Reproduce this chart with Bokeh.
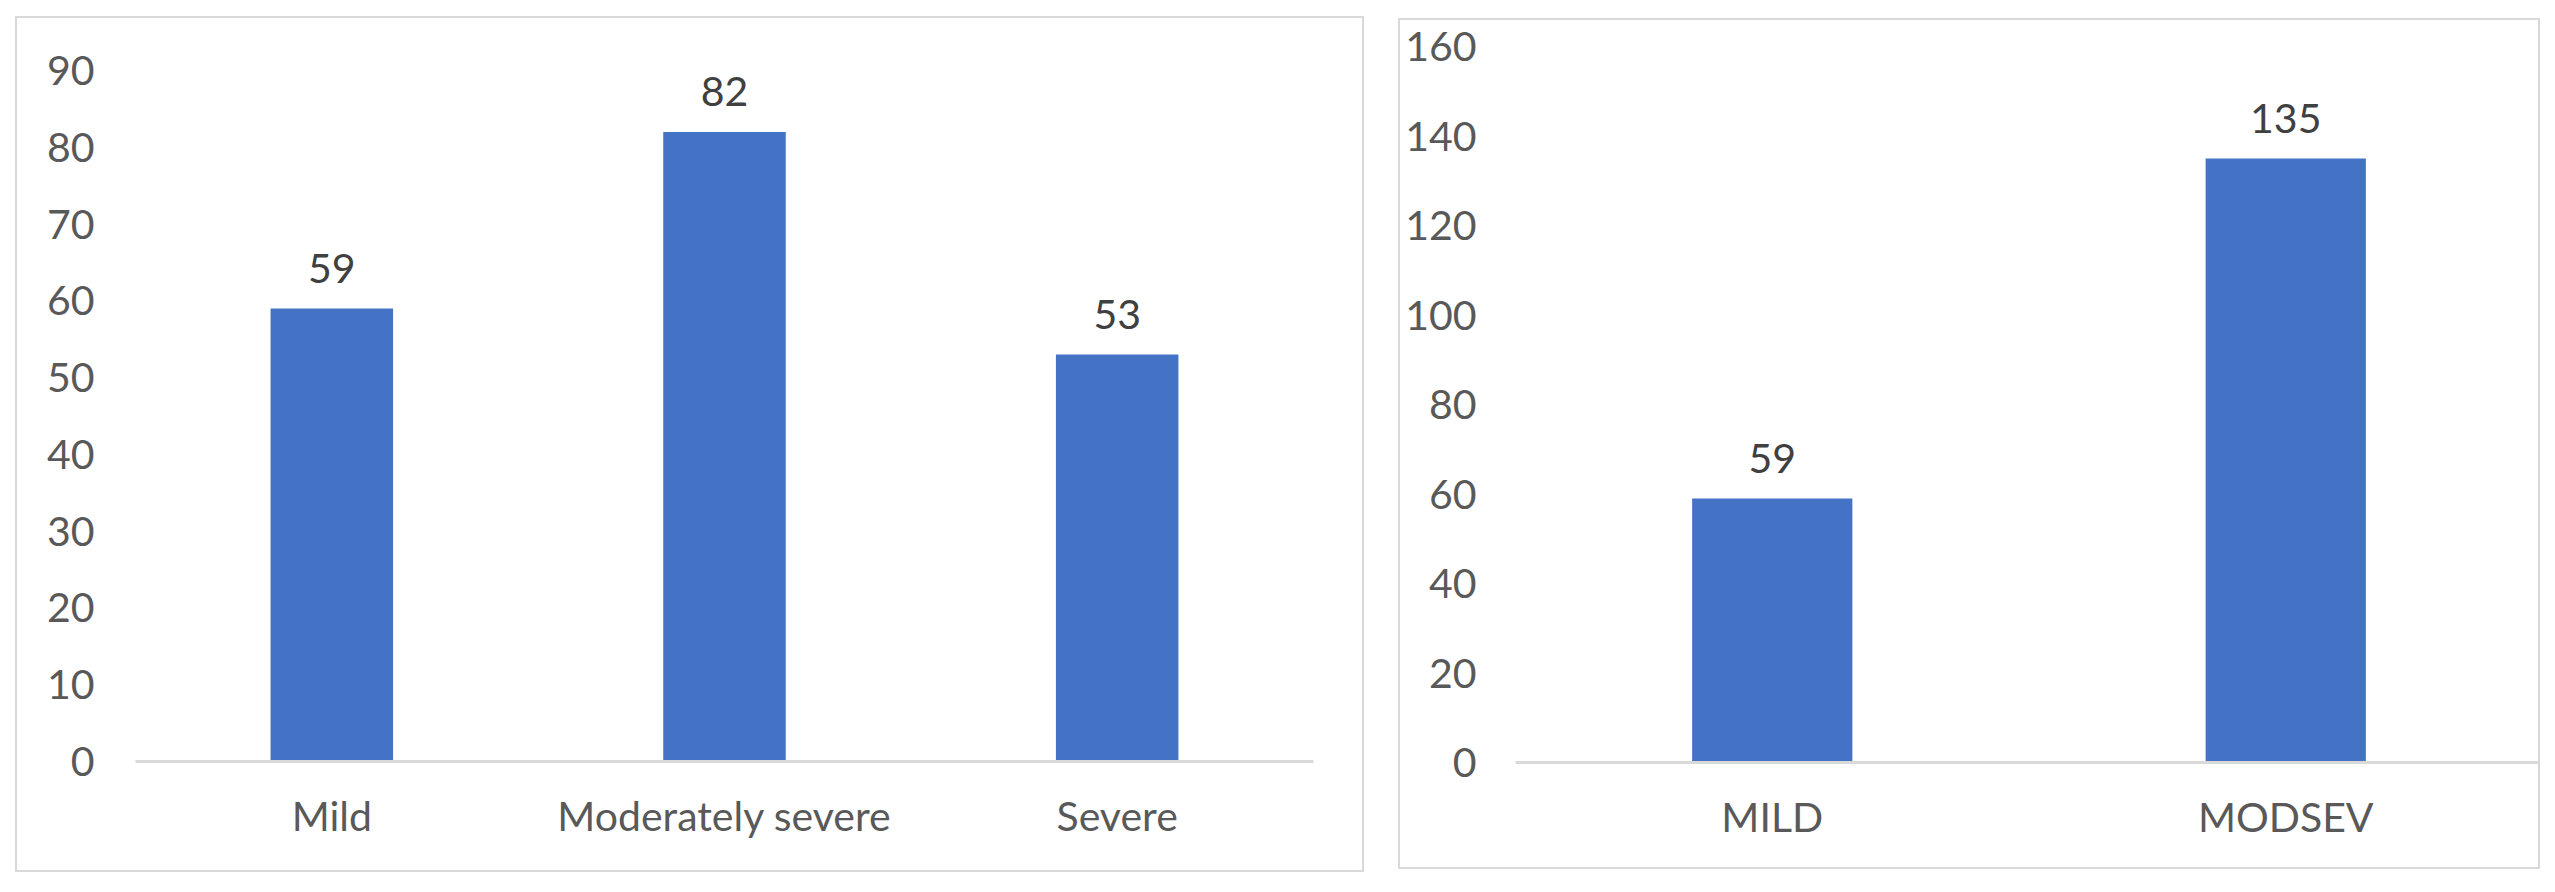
from bokeh.plotting import figure
from bokeh.models import ColumnDataSource, Range1d, FixedTicker, Spacer
from bokeh.layouts import row, column
from bokeh.core.properties import value
from bokeh.embed import file_html
from bokeh.resources import INLINE

# ---- data ----
cats1 = ["Mild", "Moderately severe", "Severe"]
vals1 = [59, 82, 53]
ticks1 = [0, 10, 20, 30, 40, 50, 60, 70, 80, 90]

cats2 = ["MILD", "MODSEV"]
vals2 = [59, 135]
ticks2 = [0, 20, 40, 60, 80, 100, 120, 140, 160]

BAR = "#4472C4"
TICK = "#595959"
LAB = "#404040"
FONT = "Lato"
FS = "41px"


def make(cats, vals, ticks, ymax, w, h, borders, std_y):
    src = ColumnDataSource(dict(x=cats, y=vals, t=[str(v) for v in vals]))
    p = figure(x_range=cats, y_range=Range1d(0, ymax), width=w, height=h,
               output_backend="svg", toolbar_location=None,
               min_border_left=borders[0], min_border_right=borders[1],
               min_border_top=borders[2], min_border_bottom=borders[3],
               styles={"border": "2px solid #d9d9d9"})
    p.x_range.range_padding = 0
    p.vbar(x="x", top="y", width=0.312, source=src, color=BAR, line_color=None)
    p.text(x="x", y="y", text="t", source=src, text_align="center",
           text_baseline="middle", y_offset=-40, text_color=LAB,
           text_font=value(FONT), text_font_size=FS)
    p.outline_line_color = None
    p.xgrid.grid_line_color = None
    p.ygrid.grid_line_color = None
    p.yaxis.ticker = FixedTicker(ticks=ticks)
    p.yaxis.axis_line_color = None
    p.yaxis.major_tick_line_color = None
    p.yaxis.minor_tick_line_color = None
    p.yaxis.major_label_standoff = std_y
    p.yaxis.major_label_text_color = TICK
    p.yaxis.major_label_text_font = FONT
    p.yaxis.major_label_text_font_size = FS
    p.xaxis.axis_line_color = "#d9d9d9"
    p.xaxis.axis_line_width = 3
    p.xaxis.major_tick_line_color = None
    p.xaxis.minor_tick_line_color = None
    p.xaxis.major_label_standoff = 23
    p.xaxis.major_label_text_color = TICK
    p.xaxis.major_label_text_font = FONT
    p.xaxis.major_label_text_font_size = FS
    return p


p1 = make(cats1, vals1, ticks1, 90, 1349, 856, (118, 53, 52, 113), 35)
p2 = make(cats2, vals2, ticks2, 160, 1142, 851, (115, 0, 26, 109), 33)

layout = row(Spacer(width=15),
             column(Spacer(height=16), p1),
             Spacer(width=34),
             column(Spacer(height=18), p2))
open("out.html", "w").write(file_html(layout, INLINE))
